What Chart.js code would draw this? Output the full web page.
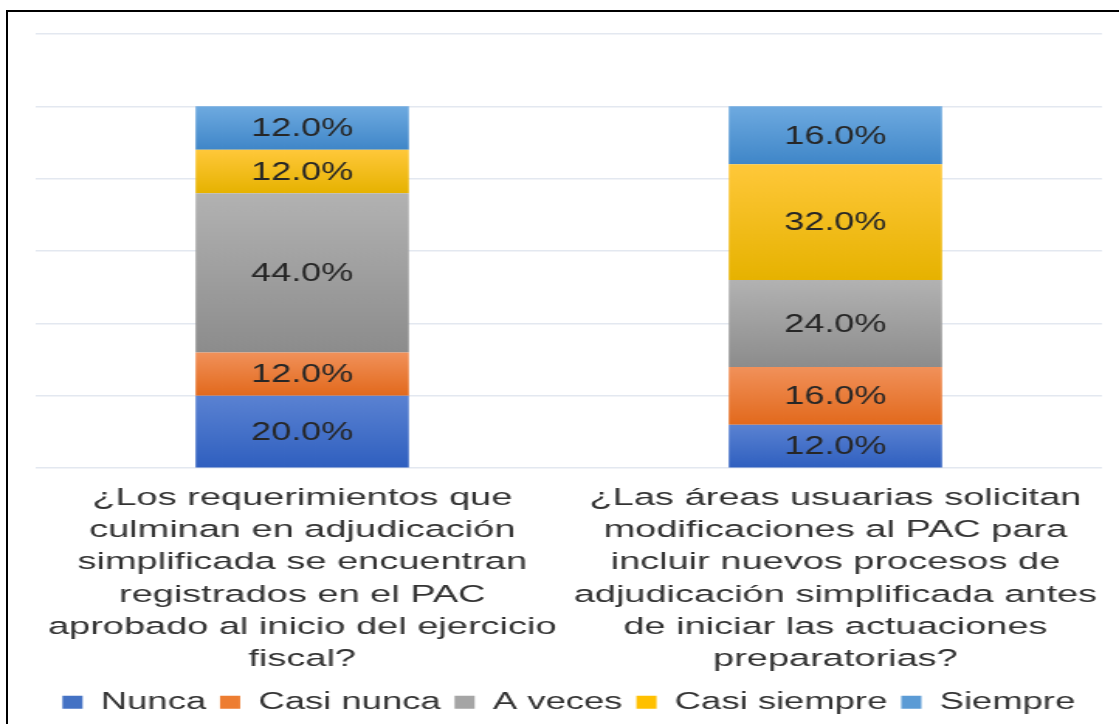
<!DOCTYPE html>
<html>
<head>
<meta charset="utf-8">
<script src="https://cdn.jsdelivr.net/npm/chart.js@4.4.1/dist/chart.umd.min.js"></script>
<style>
  html, body { margin: 0; padding: 0; background: #fff; overflow: hidden; }
  #frame { position: absolute; left: 6px; top: 10px; width: 1200px; height: 800px;
           border-left: 2px solid #000; border-top: 2px solid #000; }
  #wrap { position: absolute; left: 0; top: 0; width: 722px; height: 724px;
          transform: scaleX(1.5499); transform-origin: 0 0; }
</style>
</head>
<body>
<div id="frame"></div>
<div id="wrap"><canvas id="c"></canvas></div>
<script>
// ---- data ----
const categories = [
  ["¿Los requerimientos que", "culminan en adjudicación", "simplificada se encuentran", "registrados en el PAC", "aprobado al inicio del ejercicio", "fiscal?"],
  ["¿Las áreas usuarias solicitan", "modificaciones al PAC para", "incluir nuevos procesos de", "adjudicación simplificada antes", "de iniciar las actuaciones", "preparatorias?"]
];
const seriesNames = ["Nunca", "Casi nunca", "A veces", "Casi siempre", "Siempre"];
const nunca       = [20, 12];
const casiNunca   = [12, 16];
const aVeces      = [44, 24];
const casiSiempre = [12, 32];
const siempre     = [12, 16];
const yTicks = [0, 20, 40, 60, 80, 100, 120];

const seriesValues = [nunca, casiNunca, aVeces, casiSiempre, siempre];
const legendColors = ["#4472c4", "#ed7d31", "#a5a5a5", "#ffc000", "#5b9bd5"];
const gradTop      = ["#5a82d2", "#f1915a", "#b2b2b2", "#ffc83a", "#6eaae0"];
const gradBottom   = ["#2f5fbf", "#e2691c", "#8c8c8c", "#e6b200", "#3f86c8"];

function gradient(context) {
  const d = context.datasetIndex, i = context.dataIndex;
  const chart = context.chart;
  if (i === undefined || !chart.chartArea || !chart.scales.y) return legendColors[d];
  let start = 0;
  for (let k = 0; k < d; k++) start += seriesValues[k][i];
  const end = start + seriesValues[d][i];
  const y0 = chart.scales.y.getPixelForValue(end);
  const y1 = chart.scales.y.getPixelForValue(start);
  const g = chart.ctx.createLinearGradient(0, y0, 0, y1);
  g.addColorStop(0, gradTop[d]);
  g.addColorStop(1, gradBottom[d]);
  return g;
}

const FONT = '"Liberation Sans", Arial, sans-serif';

const valueLabels = {
  id: 'valueLabels',
  afterDatasetsDraw(chart) {
    const c = chart.ctx;
    chart.data.datasets.forEach((ds, d) => {
      chart.getDatasetMeta(d).data.forEach((el, i) => {
        const v = ds.data[i];
        const y = (el.y + el.base) / 2;
        c.save();
        c.translate(el.x, y + 1);
        c.scale(0.877, 1);
        c.font = '26.5px ' + FONT;
        c.fillStyle = '#262626';
        c.textAlign = 'center';
        c.textBaseline = 'middle';
        c.fillText(v.toFixed(1) + '%', 0, 0);
        c.restore();
      });
    });
  }
};

new Chart(document.getElementById('c'), {
  type: 'bar',
  data: {
    labels: categories,
    datasets: seriesNames.map((n, d) => ({
      label: n,
      data: seriesValues[d],
      backgroundColor: gradient,
      borderWidth: 0,
      categoryPercentage: 0.8,
      barPercentage: 0.5
    }))
  },
  options: {
    responsive: true,
    maintainAspectRatio: false,
    animation: false,
    layout: { padding: { top: 34, left: 23, right: 11, bottom: 0 } },
    plugins: {
      tooltip: { enabled: false },
      legend: {
        position: 'bottom',
        labels: {
          font: { family: FONT, size: 23.5 },
          color: '#333',
          boxWidth: 13,
          boxHeight: 13,
          padding: 9,
          generateLabels: () => seriesNames.map((n, i) => ({
            text: n, fillStyle: legendColors[i], strokeStyle: legendColors[i],
            lineWidth: 0, hidden: false, datasetIndex: i, fontColor: '#333'
          }))
        }
      }
    },
    scales: {
      x: {
        stacked: true,
        grid: { display: false, drawTicks: false },
        border: { display: false },
        afterFit: (scale) => { scale.height -= 8; scale.paddingLeft = 0; scale.paddingRight = 0; },
        ticks: {
          font: { family: FONT, size: 24.5, lineHeight: 1.315 },
          color: '#333',
          padding: 14,
          maxRotation: 0,
          autoSkip: false
        }
      },
      y: {
        stacked: true,
        min: yTicks[0],
        max: yTicks[yTicks.length - 1],
        afterBuildTicks: (axis) => { axis.ticks = yTicks.map(v => ({ value: v })); },
        grid: { color: '#e3e8f0', lineWidth: 1.5, drawTicks: false },
        border: { display: false },
        ticks: { display: false }
      }
    }
  },
  plugins: [valueLabels]
});
</script>
</body>
</html>
